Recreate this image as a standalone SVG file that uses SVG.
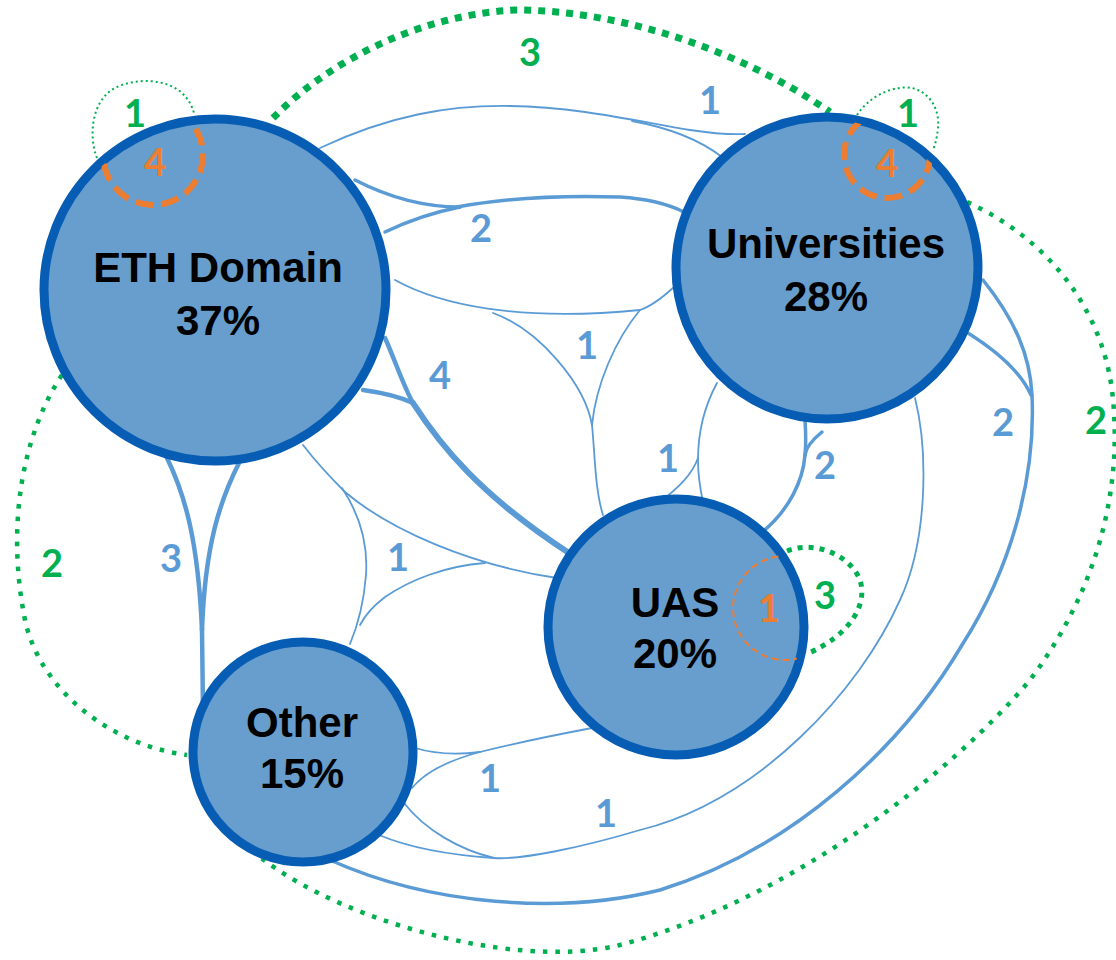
<svg xmlns="http://www.w3.org/2000/svg" width="1116" height="960" viewBox="0 0 1116 960">
<style>
.bg{fill:#ffffff}
.nc{fill:#689ecd;stroke:#075db3;stroke-width:9}
.nt{font-family:"Liberation Sans",Arial,sans-serif;font-weight:700;font-size:42px;fill:#000;text-anchor:middle}
.e{fill:none;stroke:#5b9bd5;stroke-linecap:round}
.w1{stroke-width:1.8}
.w2{stroke-width:3.5}
.w3{stroke-width:4.5}
.w4{stroke-width:6}
.g{fill:none;stroke:#00b050;stroke-linecap:butt}
.gthick{stroke-width:7;stroke-dasharray:7 7}
.gmid{stroke-width:5;stroke-dasharray:5 6}
.g2{stroke-width:4.5;stroke-dasharray:4.5 8}
.gthin{stroke-width:2;stroke-dasharray:2 3}
.o{fill:none;stroke:#ed7d31}
.othick{stroke-width:6;stroke-dasharray:18 8}
.othin{stroke-width:2;stroke-dasharray:7 4}
.lb{font-family:Lato,"Open Sans",sans-serif;font-weight:700;font-size:38px;text-anchor:middle}
.lbB{fill:#5b9bd5}
.lbG{fill:#00b050}
.lbO{fill:#ed7d31}
</style>
<defs>
<clipPath id="clipEth"><circle cx="215" cy="290" r="168"/></clipPath>
<clipPath id="clipUni"><circle cx="827" cy="268" r="148"/></clipPath>
<clipPath id="clipUas"><circle cx="676" cy="627" r="125"/></clipPath>
</defs>
<rect class="bg" x="0" y="0" width="1116" height="960"/>

<g id="connectors">
  <!-- ETH - Universities (1) -->
  <path class="e w1" d="M320,148 C390,115 450,105 510,106 C580,107 640,122 690,130 C710,133 725,135 745,134"/>
  <path class="e w1" d="M632,121 C670,128 700,140 722,157"/>
  <!-- ETH - Universities (2) -->
  <path class="e w2" d="M355,180 C390,198 425,207 460,207"/>
  <path class="e w2" d="M385,232 C410,220 435,212 460,207"/>
  <path class="e w2" d="M457,207 C500,199 560,195 620,197 C650,199 670,205 684,212"/>
  <!-- ETH - Universities / UAS (1) -->
  <path class="e w1" d="M395,280 C440,305 520,322 640,310 C652,306 662,298 674,287"/>
  <path class="e w1" d="M493,313 C540,330 585,385 592,425 C595,455 595,490 603,515"/>
  <path class="e w1" d="M640,310 C615,340 596,385 592,425"/>
  <!-- Universities - UAS (1) -->
  <path class="e w1" d="M717,383 C705,405 698,430 698,460 C698,475 700,488 703,502"/>
  <path class="e w1" d="M698,458 C692,475 678,488 660,502"/>
  <!-- Universities - UAS (2) -->
  <path class="e w2" d="M805,420 C806,435 806,445 805,455"/>
  <path class="e w2" d="M822,432 C812,440 806,448 805,455"/>
  <path class="e w2" d="M805,455 C803,480 790,510 760,534"/>
  <!-- Universities - Other (1) -->
  <path class="e w1" d="M915,398 C928,450 928,540 900,600 C860,690 760,800 640,830 C580,848 520,860 494,858"/>
  <path class="e w1" d="M494,858 C460,850 425,830 404,803"/>
  <path class="e w1" d="M494,858 C450,855 410,848 379,835"/>
  <!-- Universities - Other (2) -->
  <path class="e w2" d="M983,280 C1015,320 1030,355 1032,395"/>
  <path class="e w2" d="M968,333 C995,350 1020,370 1031,395"/>
  <path class="e w2" d="M1032,395 C1036,480 1010,570 962,645 C900,750 790,850 660,890 C560,915 430,905 330,860"/>
  <!-- ETH - UAS (4) -->
  <path class="e w3" d="M385,338 C395,360 403,385 413,403"/>
  <path class="e w3" d="M363,390 C385,393 400,397 413,403"/>
  <path class="e w4" d="M413,403 C440,445 480,495 569,553"/>
  <!-- ETH - UAS / Other (1) -->
  <path class="e w1" d="M303,445 C320,467 335,482 345,492 C390,530 470,565 557,578"/>
  <path class="e w1" d="M342,488 C360,515 368,545 366,575 C364,600 358,625 350,644"/>
  <path class="e w1" d="M485,563 C445,566 410,580 385,597 C372,607 364,617 360,625"/>
  <!-- Other - UAS (1) -->
  <path class="e w1" d="M415,748 C435,754 455,755 480,752"/>
  <path class="e w1" d="M412,788 C425,772 450,760 480,752"/>
  <path class="e w1" d="M480,752 C520,742 555,735 592,728"/>
  <!-- ETH - Other (3) -->
  <path class="e w3" d="M167,458 C185,495 198,540 202,630"/>
  <path class="e w3" d="M240,461 C220,500 205,545 202,630"/>
  <path class="e w3" d="M202,630 L203,712"/>
  <!-- green dotted edges -->
  <path class="g gthick" d="M273,118 C330,60 420,15 515,10 C620,10 740,50 830,112"/>
  <path class="g g2" d="M62,375 C25,430 5,520 25,620 C40,690 110,745 187,755"/>
  <path class="g g2" d="M967,202 C1040,235 1100,300 1112,390 C1125,500 1090,600 1030,680 C950,775 790,900 620,945 C510,972 320,915 246,845"/>
  <!-- green self loops -->
  <path class="g gthin" d="M97,158 C88,135 92,100 115,88 C135,78 165,78 182,93 C189,100 192,106 194,113"/>
  <path class="g gthin" d="M857,115 C870,95 895,85 912,88 C930,92 940,110 938,128 C937,138 935,145 933,150"/>
  <path class="g gmid" d="M787,551 C815,540 850,555 860,580 C868,605 850,635 807,654"/>
</g>

<g id="node-eth">
  <circle class="nc" cx="215" cy="290" r="171"/>
  <text class="nt" x="218" y="282">ETH Domain</text>
  <text class="nt" x="218" y="335">37%</text>
</g>
<g id="node-universities">
  <circle class="nc" cx="827" cy="268" r="151"/>
  <text class="nt" x="826" y="258">Universities</text>
  <text class="nt" x="826" y="311">28%</text>
</g>
<g id="node-uas">
  <circle class="nc" cx="676" cy="627" r="128"/>
  <text class="nt" x="675" y="617">UAS</text>
  <text class="nt" x="675" y="668">20%</text>
</g>
<g id="node-other">
  <circle class="nc" cx="303" cy="752" r="110"/>
  <text class="nt" x="302" y="737">Other</text>
  <text class="nt" x="302" y="788">15%</text>
</g>

<g id="self-loops">
  <circle class="o othick" cx="153" cy="155" r="50" clip-path="url(#clipEth)"/>
  <circle class="o othick" cx="887" cy="155" r="43" clip-path="url(#clipUni)"/>
  <circle class="o othin" cx="785" cy="608" r="52" clip-path="url(#clipUas)"/>
</g>

<g id="labels">
  <text class="lb lbB" x="710" y="114">1</text>
  <text class="lb lbB" x="481" y="242">2</text>
  <text class="lb lbB" x="587" y="359">1</text>
  <text class="lb lbB" x="440" y="389">4</text>
  <text class="lb lbB" x="668" y="472">1</text>
  <text class="lb lbB" x="825" y="479">2</text>
  <text class="lb lbB" x="1003" y="436">2</text>
  <text class="lb lbB" x="171" y="572">3</text>
  <text class="lb lbB" x="398" y="571">1</text>
  <text class="lb lbB" x="490" y="792">1</text>
  <text class="lb lbB" x="606" y="827">1</text>
  <text class="lb lbG" x="530" y="66">3</text>
  <text class="lb lbG" x="135" y="127">1</text>
  <text class="lb lbG" x="908" y="127">1</text>
  <text class="lb lbG" x="1096" y="434">2</text>
  <text class="lb lbG" x="52" y="577">2</text>
  <text class="lb lbG" x="825" y="609">3</text>
  <text class="lb lbO" x="155" y="176">4</text>
  <text class="lb lbO" x="887" y="177">4</text>
  <text class="lb lbO" x="769" y="622">1</text>
</g>
</svg>
